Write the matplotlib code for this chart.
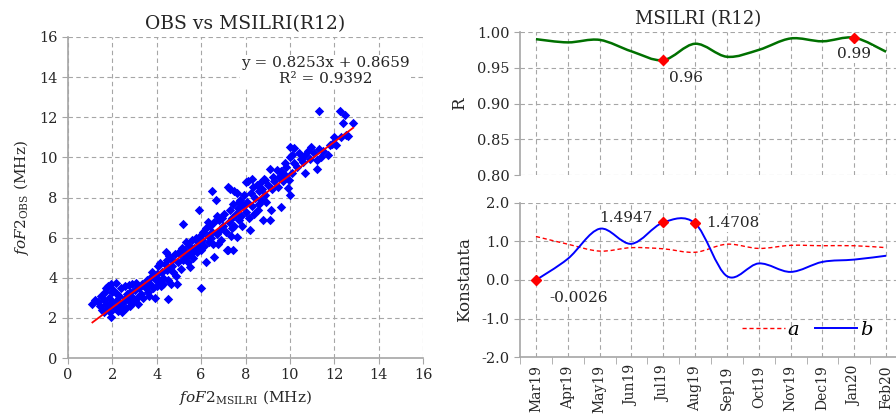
import numpy as np
import matplotlib.pyplot as plt
from matplotlib.path import Path
from matplotlib.patches import PathPatch
from matplotlib.lines import Line2D
from matplotlib.ticker import FormatStrFormatter

plt.rcParams['font.family'] = ['DejaVu Serif']
plt.rcParams['mathtext.fontset'] = 'dejavuserif'

# foF2 pairs (MHz): model on x, observed on y
msilri = [
    1.10, 1.20, 1.35, 1.45, 1.50, 1.55, 1.60, 1.65, 1.70, 1.75, 1.80, 1.85, 1.90, 1.92, 1.95, 2.00, 2.00, 1.70, 1.60, 1.80,
    2.05, 2.10, 2.15, 2.20, 2.25, 2.30, 2.35, 2.40, 2.45, 2.50, 2.55, 2.60, 2.65, 2.70, 2.75, 2.80, 2.85, 2.90, 2.95, 3.00, 2.20, 2.40, 2.60, 2.80, 2.50,
    3.05, 3.10, 3.15, 3.20, 3.30, 3.35, 3.40, 3.50, 3.55, 3.60, 3.70, 3.75, 3.80, 3.85, 3.90, 3.95, 4.00, 4.00, 3.65, 3.45,
    4.05, 4.10, 4.15, 4.20, 4.25, 4.30, 4.35, 4.40, 4.45, 4.50, 4.50, 4.55, 4.60, 4.65, 4.70, 4.75, 4.80, 4.85, 4.90, 4.95, 5.00, 4.30, 4.45, 4.70,
    5.03, 5.10, 5.15, 5.18, 5.20, 5.30, 5.35, 5.40, 5.45, 5.48, 5.50, 5.60, 5.65, 5.70, 5.75, 5.80, 5.85, 5.90, 5.90, 5.95, 6.00, 6.00, 5.55, 5.25,
    6.05, 6.10, 6.15, 6.20, 6.24, 6.30, 6.35, 6.40, 6.45, 6.50, 6.50, 6.55, 6.60, 6.60, 6.66, 6.70, 6.75, 6.80, 6.85, 6.90, 6.95, 7.00, 6.30, 6.70,
    7.05, 7.10, 7.15, 7.20, 7.20, 7.25, 7.30, 7.35, 7.40, 7.44, 7.45, 7.50, 7.50, 7.55, 7.60, 7.60, 7.65, 7.70, 7.75, 7.80, 7.85, 7.90, 7.95, 8.00, 8.00, 7.30, 7.40, 7.70,
    8.05, 8.10, 8.15, 8.20, 8.25, 8.30, 8.35, 8.40, 8.45, 8.50, 8.55, 8.60, 8.64, 8.70, 8.75, 8.80, 8.85, 8.87, 8.90, 8.94, 9.00, 8.30, 8.60,
    9.10, 9.10, 9.16, 9.20, 9.24, 9.30, 9.40, 9.45, 9.50, 9.58, 9.60, 9.70, 9.76, 9.80, 9.84, 9.90, 9.96, 9.99, 9.99, 10.00,
    10.10, 10.10, 10.20, 10.20, 10.30, 10.40, 10.50, 10.60, 10.67, 10.70, 10.80, 10.90, 10.97,
    11.10, 11.20, 11.20, 11.30, 11.31, 11.40, 11.50, 11.70, 11.80, 11.90, 12.00, 12.10, 12.27, 12.50, 12.40, 12.55, 12.60, 12.85, 12.30,
]
obs = [
    2.70, 2.90, 2.80, 2.60, 3.10, 2.40, 2.90, 3.30, 2.70, 2.50, 3.60, 3.00, 2.30, 2.04, 3.70, 2.80, 3.30, 3.50, 2.30, 2.60,
    3.40, 2.50, 3.75, 2.90, 2.35, 3.10, 2.60, 3.50, 2.30, 2.80, 3.60, 2.50, 3.20, 2.90, 3.65, 2.60, 3.10, 3.70, 2.80, 3.40, 3.20, 2.70, 3.00, 3.30, 2.40,
    3.75, 3.00, 2.70, 3.50, 3.20, 3.70, 3.00, 3.50, 3.90, 3.30, 3.70, 4.05, 4.30, 3.50, 2.99, 3.90, 3.60, 4.20, 3.10, 3.60,
    4.60, 3.90, 4.75, 3.60, 4.30, 4.00, 4.70, 5.28, 4.40, 2.94, 3.90, 5.10, 4.50, 3.70, 4.90, 4.30, 5.20, 4.10, 3.70, 4.80, 5.30, 3.70, 4.90, 4.60,
    5.20, 4.45, 5.50, 6.69, 4.90, 5.80, 5.10, 4.80, 5.60, 4.53, 5.30, 5.90, 5.00, 5.50, 6.00, 5.30, 5.80, 7.36, 5.60, 6.10, 3.50, 5.40, 5.20, 5.40,
    5.90, 6.30, 5.60, 6.50, 4.78, 6.10, 5.80, 6.60, 6.00, 8.33, 6.30, 5.70, 5.03, 6.80, 7.90, 6.20, 5.70, 6.90, 6.40, 5.90, 7.00, 6.60, 6.80, 7.10,
    7.20, 6.30, 5.40, 5.36, 8.50, 6.80, 7.40, 6.10, 7.00, 5.36, 7.70, 6.60, 8.30, 7.20, 6.03, 8.20, 7.50, 6.90, 7.90, 7.10, 6.60, 7.60, 8.10, 7.30, 8.75, 8.40, 6.50, 7.80,
    7.80, 8.80, 7.00, 6.36, 8.20, 7.60, 8.50, 7.20, 8.00, 8.60, 7.40, 8.30, 8.70, 7.90, 8.40, 6.86, 8.90, 8.86, 8.10, 7.77, 8.60, 8.90, 7.70,
    9.44, 6.86, 7.36, 8.40, 9.03, 8.80, 9.36, 8.50, 9.00, 7.52, 9.30, 8.80, 9.10, 9.70, 9.50, 8.45, 8.86, 8.10, 10.50, 10.00,
    10.10, 9.20, 10.45, 9.70, 9.50, 10.20, 9.90, 9.78, 9.20, 10.10, 10.30, 9.90, 10.50,
    10.20, 9.86, 9.44, 10.40, 12.30, 10.00, 10.30, 10.10, 10.60, 10.65, 11.00, 10.60, 12.30, 12.13, 11.70, 11.10, 11.05, 11.70, 11.00,
]
slope, intercept, r2 = 0.8253, 0.8659, 0.9392

# monthly coefficients
months = ['Mar19', 'Apr19', 'May19', 'Jun19', 'Jul19', 'Aug19',
          'Sep19', 'Oct19', 'Nov19', 'Dec19', 'Jan20', 'Feb20']
r_vals = [0.990, 0.9855, 0.989, 0.973, 0.9607, 0.9836,
          0.9654, 0.975, 0.991, 0.987, 0.992, 0.9724]
a_vals = [1.13, 0.93, 0.75, 0.84, 0.81, 0.72, 0.93, 0.82, 0.90, 0.89, 0.89, 0.84]
b_vals = [-0.0026, 0.55, 1.33, 0.94, 1.4947, 1.4708, 0.10, 0.43, 0.21, 0.47, 0.53, 0.63]
b_marked = [0, 4, 5]

GRID = '#A6A6A6'
TXT = '#262626'


def smooth_path(ys):
    # cubic Bezier segments through the points (spreadsheet-style smoothed line)
    xs = np.arange(len(ys), dtype=float)
    ys = np.asarray(ys, dtype=float)
    n = len(xs)
    verts = [(xs[0], ys[0])]
    codes = [Path.MOVETO]
    for i in range(n - 1):
        p0 = np.array([xs[max(i - 1, 0)], ys[max(i - 1, 0)]])
        p1 = np.array([xs[i], ys[i]])
        p2 = np.array([xs[i + 1], ys[i + 1]])
        p3 = np.array([xs[min(i + 2, n - 1)], ys[min(i + 2, n - 1)]])
        c1 = p1 + (p2 - p0) / 6
        c2 = p2 - (p3 - p1) / 6
        verts += [tuple(c1), tuple(c2), tuple(p2)]
        codes += [Path.CURVE4] * 3
    return Path(verts, codes)


def style_axis(ax):
    for s in ['top', 'right']:
        ax.spines[s].set_visible(False)
    for s in ['left', 'bottom']:
        ax.spines[s].set_color(GRID)
        ax.spines[s].set_linewidth(1.2)
    ax.tick_params(direction='out', length=4, color=GRID, labelcolor=TXT, labelsize=10.5)
    ax.grid(True, linestyle=(0, (4, 3)), color=GRID, linewidth=0.8)
    ax.set_axisbelow(True)


fig = plt.figure(figsize=(8.96, 4.18), dpi=100)

# scatter: observed vs model
ax1 = fig.add_axes([0.0759, 0.1435, 0.3962, 0.768])
style_axis(ax1)
ax1.set_xlim(0, 16)
ax1.set_ylim(0, 16)
ax1.set_xticks(range(0, 17, 2))
ax1.set_yticks(range(0, 17, 2))
ax1.scatter(msilri, obs, marker='D', s=23, color='#0000FF', linewidths=0, zorder=3)
fx = np.array([min(msilri), max(msilri)])
ax1.plot(fx, slope * fx + intercept, color='red', lw=1.3, zorder=4)
ax1.text(11.61, 14.3, f'y = {slope}x + {intercept}\nR² = {r2}', ha='center', va='center',
         multialignment='center', fontsize=11, color=TXT, zorder=5,
         bbox=dict(facecolor='white', edgecolor='none', pad=1))
ax1.set_xlabel(r'$\mathit{foF2}_{\mathrm{MSILRI}}$ (MHz)', fontsize=11, color=TXT)
ax1.set_ylabel(r'$\mathit{foF2}_{\mathrm{OBS}}$ (MHz)', fontsize=11, color=TXT, labelpad=6)
ax1.set_title('OBS vs MSILRI(R12)', fontsize=13.5, color=TXT)

# correlation per month
ax2 = fig.add_axes([0.5804, 0.5813, 0.4263, 0.3421])
style_axis(ax2)
ax2.spines['bottom'].set_visible(False)
ax2.set_xlim(-0.5, 11.5)
ax2.set_ylim(0.8, 1.0)
ax2.set_yticks(np.arange(0.80, 1.001, 0.05))
ax2.yaxis.set_major_formatter(FormatStrFormatter('%.2f'))
ax2.set_xticks(range(len(months)))
ax2.tick_params(axis='x', length=0, labelbottom=False)
ax2.add_patch(PathPatch(smooth_path(r_vals), fill=False, edgecolor='#007000', lw=1.8, zorder=3))
i_lo, i_hi = int(np.argmin(r_vals)), int(np.argmax(r_vals))
ax2.plot([i_lo, i_hi], [r_vals[i_lo], r_vals[i_hi]], 'D', color='red', ms=5, zorder=4)
ax2.annotate(f'{r_vals[i_lo]:.2f}', (i_lo, r_vals[i_lo]), xytext=(4, -8), textcoords='offset points',
             ha='left', va='top', fontsize=11, color=TXT)
ax2.annotate(f'{r_vals[i_hi]:.2f}', (i_hi, r_vals[i_hi]), xytext=(0, -7), textcoords='offset points',
             ha='center', va='top', fontsize=11, color=TXT, zorder=5,
             bbox=dict(facecolor='white', edgecolor='none', pad=1))
ax2.set_ylabel('R', fontsize=12, color=TXT, labelpad=6)
ax2.set_title('MSILRI (R12)', fontsize=13, color=TXT, x=0.466)

# regression constants per month
ax3 = fig.add_axes([0.5804, 0.1459, 0.4263, 0.3685])
style_axis(ax3)
ax3.set_xlim(-0.5, 11.5)
ax3.set_ylim(-2, 2)
ax3.set_yticks(np.arange(-2, 2.01, 1.0))
ax3.yaxis.set_major_formatter(FormatStrFormatter('%.1f'))
ax3.set_xticks(range(len(months)))
ax3.set_xticklabels(months, rotation=90, fontsize=10)
ax3.set_xticks(np.arange(-0.5, 12, 1.0), minor=True)
ax3.tick_params(axis='x', which='major', length=0, pad=6)
ax3.tick_params(axis='x', which='minor', direction='out', length=5, color=GRID)
ax3.add_patch(PathPatch(smooth_path(a_vals), fill=False, edgecolor='red', lw=1.0,
                        linestyle=(0, (3, 2)), zorder=3))
ax3.add_patch(PathPatch(smooth_path(b_vals), fill=False, edgecolor='#0000FF', lw=1.4, zorder=3))
ax3.plot(b_marked, [b_vals[i] for i in b_marked], 'D', color='red', ms=5, zorder=4)
offsets = {0: ((10, -8), 'left', 'top'), 4: ((-8, 3), 'right', 'center'), 5: ((8, 0), 'left', 'center')}
for i in b_marked:
    off, ha, va = offsets[i]
    ax3.annotate(f'{b_vals[i]:.4f}', (i, b_vals[i]), xytext=off, textcoords='offset points',
                 ha=ha, va=va, fontsize=11, color=TXT, zorder=5,
                 bbox=dict(facecolor='white', edgecolor='none', pad=1))
ax3.set_ylabel('Konstanta', fontsize=12, color=TXT, labelpad=6)
handles = [Line2D([], [], color='red', lw=1.0, linestyle=(0, (3, 2))),
           Line2D([], [], color='#0000FF', lw=1.4)]
ax3.legend(handles, ['a', 'b'], loc='center left', bbox_to_anchor=(0.555, 0.174), ncol=2,
           frameon=False, prop={'style': 'italic', 'size': 14}, handlelength=2.2,
           handletextpad=0.15, columnspacing=0.8, borderpad=0)

fig.savefig('out.png', dpi=100)
